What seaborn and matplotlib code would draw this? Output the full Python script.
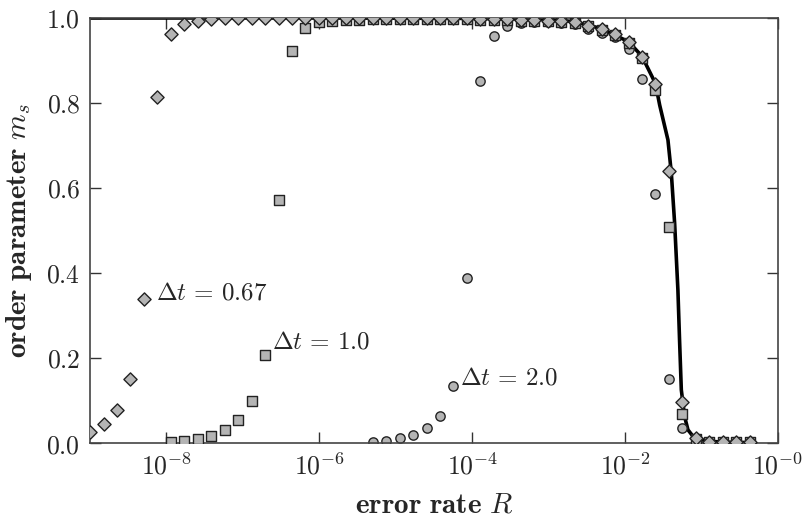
import numpy as np
import pandas as pd
import matplotlib
matplotlib.use("Agg")
import matplotlib.pyplot as plt
import seaborn as sns

# ==========================================================
# data
# ==========================================================
# error rates (same grid for all three series)
rate = [1.00e-9, 1.50e-9, 2.25e-9, 3.38e-9, 5.06e-9, 7.59e-9, 1.14e-8, 1.71e-8,
        2.56e-8, 3.84e-8, 5.77e-8, 8.65e-8, 1.30e-7, 1.95e-7, 2.92e-7, 4.38e-7,
        6.57e-7, 9.85e-7, 1.48e-6, 2.22e-6, 3.33e-6, 4.99e-6, 7.48e-6, 1.12e-5,
        1.68e-5, 2.53e-5, 3.79e-5, 5.68e-5, 8.52e-5, 1.28e-4, 1.92e-4, 2.88e-4,
        4.31e-4, 6.47e-4, 9.71e-4, 1.46e-3, 2.18e-3, 3.28e-3, 4.91e-3, 7.37e-3,
        1.11e-2, 1.66e-2, 2.49e-2, 3.73e-2, 5.60e-2, 8.40e-2, 1.26e-1, 1.89e-1,
        2.83e-1, 4.25e-1]

# dt = 0.67 (diamonds)
m_067 = [0.027, 0.045, 0.078, 0.150, 0.338, 0.813, 0.962, 0.986, 0.993, 0.997,
         0.999, 0.999, 0.999, 0.999, 0.999, 0.999, 0.999, 0.999, 0.999, 0.999,
         0.999, 0.999, 0.999, 0.999, 0.999, 0.999, 0.999, 0.999, 0.999, 0.998,
         0.998, 0.997, 0.996, 0.995, 0.994, 0.993, 0.990, 0.982, 0.974, 0.962,
         0.943, 0.908, 0.844, 0.640, 0.096, 0.011, 0.002, 0.002, 0.002, 0.002]

# dt = 1.0 (squares), starts at the 7th rate
m_10 = [0.003, 0.005, 0.009, 0.017, 0.031, 0.053, 0.098, 0.207, 0.572, 0.923,
        0.977, 0.990, 0.993, 0.995, 0.996, 0.997, 0.997, 0.997, 0.997, 0.997,
        0.997, 0.997, 0.997, 0.996, 0.996, 0.995, 0.994, 0.993, 0.992, 0.991,
        0.988, 0.980, 0.972, 0.960, 0.940, 0.905, 0.831, 0.509, 0.068, 0.010,
        0.002, 0.002, 0.002, 0.002]

# dt = 2.0 (circles), starts at the 22nd rate
m_20 = [0.002, 0.005, 0.011, 0.020, 0.036, 0.064, 0.135, 0.388, 0.852, 0.958,
        0.980, 0.987, 0.990, 0.990, 0.988, 0.985, 0.975, 0.965, 0.955, 0.926,
        0.856, 0.585, 0.151, 0.035, 0.008, 0.002, 0.002, 0.002]

# solid curve
line_rate = [1.0e-9, 1.0e-6, 1.0e-4, 1.0e-3, 2.18e-3, 4.91e-3, 1.11e-2, 1.66e-2,
             2.49e-2, 2.83e-2, 3.63e-2, 4.02e-2, 4.44e-2, 4.90e-2, 5.15e-2,
             5.43e-2, 6.00e-2, 6.63e-2, 8.10e-2, 1.26e-1, 2.0e-1, 4.25e-1]
line_m = [1.0, 1.0, 0.999, 0.997, 0.991, 0.975, 0.944, 0.910, 0.846, 0.795,
          0.713, 0.635, 0.517, 0.360, 0.242, 0.125, 0.062, 0.031, 0.011, 0.004,
          0.002, 0.001]

df_067 = pd.DataFrame({"R": rate, "m": m_067})
df_10 = pd.DataFrame({"R": rate[6:6 + len(m_10)], "m": m_10})
df_20 = pd.DataFrame({"R": rate[21:21 + len(m_20)], "m": m_20})
df_line = pd.DataFrame({"R": line_rate, "m": line_m})

# ==========================================================
# style
# ==========================================================
sns.set_style("ticks")
plt.rcParams["mathtext.fontset"] = "cm"
plt.rcParams["font.family"] = ["DejaVu Serif"]

fig = plt.figure(figsize=(8.04, 5.21), dpi=100)
ax = fig.add_axes([0.112, 0.1497, 0.8557, 0.8158])
ax.set_xscale("log")

face = "#b4b4b4"
sns.lineplot(data=df_line, x="R", y="m", color="black", linewidth=2.6,
             sort=False, estimator=None, ax=ax, zorder=1)
sns.scatterplot(data=df_20, x="R", y="m", marker="o", s=45, color=face,
                edgecolor="#222222", linewidth=1.0, ax=ax, zorder=2)
sns.scatterplot(data=df_10, x="R", y="m", marker="s", s=42, color=face,
                edgecolor="#222222", linewidth=1.0, ax=ax, zorder=3)
sns.scatterplot(data=df_067, x="R", y="m", marker="D", s=45, color=face,
                edgecolor="#222222", linewidth=1.0, ax=ax, zorder=4)

ax.set_xlim(1e-9, 1.0)
ax.set_ylim(0.0, 1.0)

xt = [1e-8, 1e-6, 1e-4, 1e-2, 1e0]
ax.set_xticks(xt)
ax.set_xticklabels([r"$10^{-8}$", r"$10^{-6}$", r"$10^{-4}$", r"$10^{-2}$",
                    r"$10^{-0}$"])
ax.minorticks_off()
yt = [0.0, 0.2, 0.4, 0.6, 0.8, 1.0]
ax.set_yticks(yt)
ax.set_yticklabels([r"$%.1f$" % v for v in yt])

ax.tick_params(direction="in", length=8, width=1.0, color="#333333",
               labelsize=18.5, top=True, right=True, pad=7)
for sp in ax.spines.values():
    sp.set_color("#444444")
    sp.set_linewidth(1.2)

ax.set_xlabel(r"$\mathbf{error\ rate}\ R$", fontsize=21, labelpad=8)
ax.set_ylabel(r"$\mathbf{order\ parameter}\ m_s$", fontsize=21, labelpad=9)

ax.text(7.3e-9, 0.353, r"$\Delta t \,=\, 0.67$", fontsize=18, ha="left", va="center")
ax.text(2.39e-7, 0.238, r"$\Delta t \,=\, 1.0$", fontsize=18, ha="left", va="center")
ax.text(6.87e-5, 0.153, r"$\Delta t \,=\, 2.0$", fontsize=18, ha="left", va="center")

plt.savefig("out.png", dpi=100)
